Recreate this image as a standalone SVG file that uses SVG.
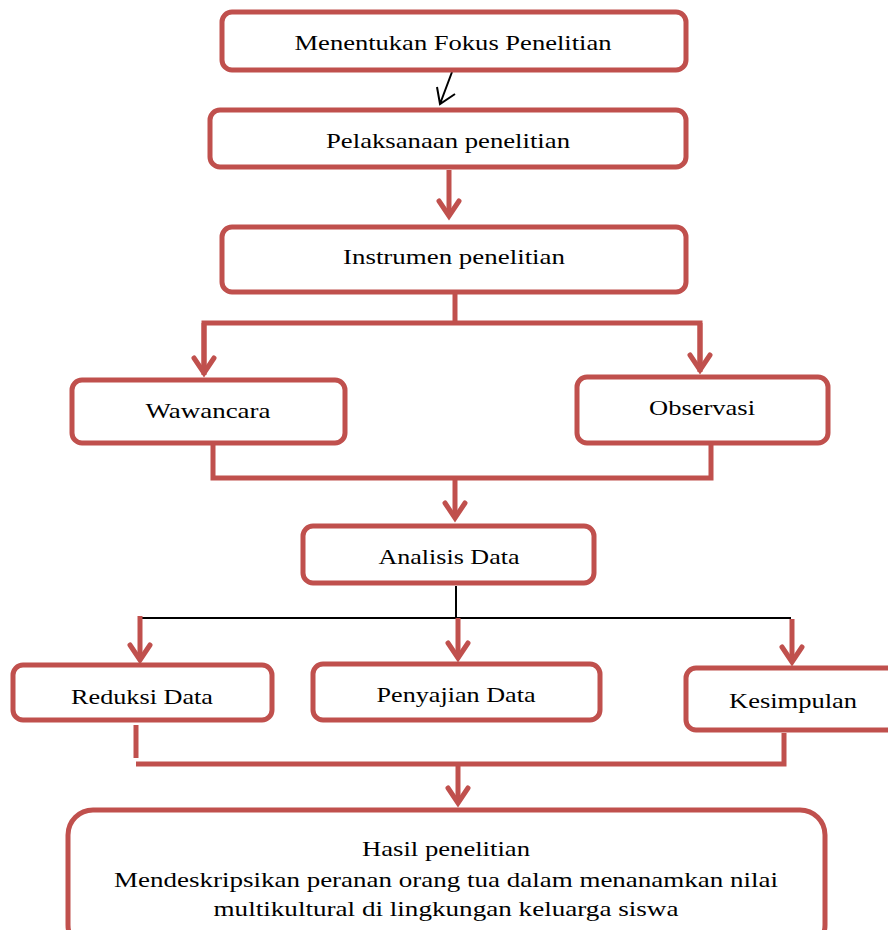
<svg xmlns="http://www.w3.org/2000/svg" width="888" height="930" viewBox="0 0 888 930">
<style>
.box{fill:#fff;stroke:#c0504d;stroke-width:5}
.ln{fill:none;stroke:#c0504d;stroke-width:5}
.bk{fill:none;stroke:#000;stroke-width:2}
text{font-family:"Liberation Serif","DejaVu Serif",serif;font-size:21px;fill:#000;text-anchor:middle}
</style>
<defs>
<marker id="ah" markerUnits="userSpaceOnUse" orient="auto" refX="0" refY="0" markerWidth="30" markerHeight="30" overflow="visible">
<path d="M-15,-10 L0,0 L-15,10" fill="none" stroke="#c0504d" stroke-width="5" stroke-linecap="round" stroke-linejoin="miter"/>
</marker>
</defs>
<rect width="888" height="930" fill="#fff"/>
<g id="connectors">
<path class="bk" d="M452,72 L440,104 M437,87 L440,104 L455,94" stroke-width="1.6"/>
<path class="ln" d="M449,170 V216" marker-end="url(#ah)"/>
<path class="ln" d="M455,292 V321"/>
<path class="ln" d="M204,375 V323 H700 V372" />
<path class="ln" d="M204,323 V373" marker-end="url(#ah)"/>
<path class="ln" d="M700,323 V370" marker-end="url(#ah)"/>
<path class="ln" d="M213,443 V478 H711 V443"/>
<path class="ln" d="M455,478 V518" marker-end="url(#ah)"/>
<path class="bk" d="M456,586 V618 M139,618 H791"/>
<path class="ln" d="M140,616 V660" marker-end="url(#ah)"/>
<path class="ln" d="M458,618 V658" marker-end="url(#ah)"/>
<path class="ln" d="M792,619 V662" marker-end="url(#ah)"/>
<path class="ln" d="M136,725 V758"/>
<path class="ln" d="M136,764 H784 V733"/>
<path class="ln" d="M458,764 V803" marker-end="url(#ah)"/>
</g>
<g id="n1"><rect class="box" x="222" y="12" width="464" height="58" rx="10"/><text x="453" y="50" textLength="317" lengthAdjust="spacingAndGlyphs">Menentukan Fokus Penelitian</text></g>
<g id="n2"><rect class="box" x="210" y="110" width="476" height="57" rx="10"/><text x="448" y="148" textLength="244" lengthAdjust="spacingAndGlyphs">Pelaksanaan penelitian</text></g>
<g id="n3"><rect class="box" x="222" y="227" width="464" height="65" rx="10"/><text x="454" y="264" textLength="222" lengthAdjust="spacingAndGlyphs">Instrumen penelitian</text></g>
<g id="n4"><rect class="box" x="72" y="380" width="273" height="63" rx="10"/><text x="208" y="418" textLength="125" lengthAdjust="spacingAndGlyphs">Wawancara</text></g>
<g id="n5"><rect class="box" x="577" y="377" width="251" height="66" rx="10"/><text x="702" y="415" textLength="106" lengthAdjust="spacingAndGlyphs">Observasi</text></g>
<g id="n6"><rect class="box" x="303" y="526" width="291" height="57" rx="10"/><text x="449" y="564" textLength="141" lengthAdjust="spacingAndGlyphs">Analisis Data</text></g>
<g id="n7"><rect class="box" x="13" y="665" width="259" height="55" rx="10"/><text x="142" y="704" textLength="142" lengthAdjust="spacingAndGlyphs">Reduksi Data</text></g>
<g id="n8"><rect class="box" x="313" y="664" width="287" height="56" rx="10"/><text x="456" y="702" textLength="159" lengthAdjust="spacingAndGlyphs">Penyajian Data</text></g>
<g id="n9"><rect class="box" x="686" y="668" width="220" height="62" rx="10"/><text x="793" y="708" textLength="128" lengthAdjust="spacingAndGlyphs">Kesimpulan</text></g>
<g id="n10"><rect class="box" x="68" y="810" width="757" height="140" rx="25"/>
<text x="446" y="856" textLength="168" lengthAdjust="spacingAndGlyphs">Hasil penelitian</text>
<text x="446" y="887" textLength="664" lengthAdjust="spacingAndGlyphs">Mendeskripsikan peranan orang tua dalam menanamkan nilai</text>
<text x="446" y="916" textLength="465" lengthAdjust="spacingAndGlyphs">multikultural di lingkungan keluarga siswa</text></g>
</svg>
